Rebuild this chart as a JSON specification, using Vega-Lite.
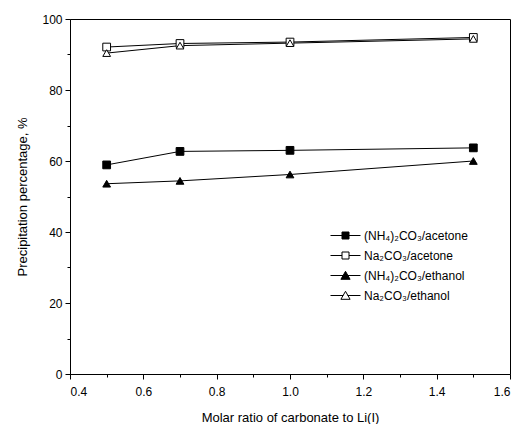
{
  "$schema": "https://vega.github.io/schema/vega-lite/v6.json",
  "width": 440,
  "height": 355,
  "autosize": "none",
  "padding": {"left": 70, "top": 19, "right": 10, "bottom": 50},
  "background": "white",
  "config": {
    "font": "Liberation Sans",
    "view": {"stroke": "black", "strokeWidth": 1},
    "axis": {
      "domainColor": "black", "tickColor": "black", "labelColor": "black", "titleColor": "black",
      "grid": false, "labelFont": "Liberation Sans", "titleFont": "Liberation Sans",
      "labelFontSize": 12, "titleFontSize": 13, "titleFontWeight": "normal"
    }
  },
  "data": {"values": [
    {"series": "(NH₄)₂CO₃/acetone", "x": 0.5, "y": 58.9},
    {"series": "(NH₄)₂CO₃/acetone", "x": 0.7, "y": 62.7},
    {"series": "(NH₄)₂CO₃/acetone", "x": 1.0, "y": 63.0},
    {"series": "(NH₄)₂CO₃/acetone", "x": 1.5, "y": 63.7},
    {"series": "Na₂CO₃/acetone", "x": 0.5, "y": 92.1},
    {"series": "Na₂CO₃/acetone", "x": 0.7, "y": 93.1},
    {"series": "Na₂CO₃/acetone", "x": 1.0, "y": 93.5},
    {"series": "Na₂CO₃/acetone", "x": 1.5, "y": 94.8},
    {"series": "(NH₄)₂CO₃/ethanol", "x": 0.5, "y": 53.6},
    {"series": "(NH₄)₂CO₃/ethanol", "x": 0.7, "y": 54.4},
    {"series": "(NH₄)₂CO₃/ethanol", "x": 1.0, "y": 56.2},
    {"series": "(NH₄)₂CO₃/ethanol", "x": 1.5, "y": 60.0},
    {"series": "Na₂CO₃/ethanol", "x": 0.5, "y": 90.4},
    {"series": "Na₂CO₃/ethanol", "x": 0.7, "y": 92.5},
    {"series": "Na₂CO₃/ethanol", "x": 1.0, "y": 93.2},
    {"series": "Na₂CO₃/ethanol", "x": 1.5, "y": 94.4}
  ]},
  "resolve": {"axis": {"x": "independent", "y": "independent"}, "scale": {"shape": "independent", "fill": "independent"}},
  "layer": [
    {
      "mark": {"type": "line", "color": "black", "strokeWidth": 1},
      "encoding": {
        "x": {"field": "x", "type": "quantitative", "scale": {"domain": [0.4, 1.6], "nice": false, "zero": false},
              "axis": {"orient": "bottom", "values": [0.4, 0.6, 0.8, 1.0, 1.2, 1.4, 1.6], "format": ".1f", "tickSize": 5, "labelPadding": 7, "title": "Molar ratio of carbonate to Li(I)", "titlePadding": 14}},
        "y": {"field": "y", "type": "quantitative", "scale": {"domain": [0, 100], "nice": false},
              "axis": {"orient": "left", "values": [0, 20, 40, 60, 80, 100], "tickSize": 5, "labelPadding": 3, "title": "Precipitation percentage, %", "titlePadding": 12}},
        "detail": {"field": "series"}
      }
    },
    {
      "mark": {"type": "point", "stroke": "black", "strokeWidth": 1, "opacity": 1, "fillOpacity": 1},
      "encoding": {
        "x": {"field": "x", "type": "quantitative",
              "axis": {"orient": "bottom", "values": [0.5, 0.7, 0.9, 1.1, 1.3, 1.5], "tickSize": 3, "labels": false, "domain": false, "title": null}},
        "y": {"field": "y", "type": "quantitative",
              "axis": {"orient": "left", "values": [10, 30, 50, 70, 90], "tickSize": 3, "labels": false, "domain": false, "title": null}},
        "shape": {"field": "series", "type": "nominal",
                  "scale": {"domain": ["(NH₄)₂CO₃/acetone", "Na₂CO₃/acetone", "(NH₄)₂CO₃/ethanol", "Na₂CO₃/ethanol"],
                            "range": ["square", "square", "triangle-up", "triangle-up"]},
                  "legend": null},
        "fill": {"field": "series", "type": "nominal",
                 "scale": {"domain": ["(NH₄)₂CO₃/acetone", "Na₂CO₃/acetone", "(NH₄)₂CO₃/ethanol", "Na₂CO₃/ethanol"],
                           "range": ["black", "white", "black", "white"]},
                 "legend": null},
        "size": {"value": 60}
      }
    },
    {
      "transform": [{"filter": "datum.x > 100"}],
      "mark": {"type": "point", "stroke": "black", "strokeWidth": 1, "opacity": 1, "fillOpacity": 1},
      "encoding": {
        "x": {"field": "x", "type": "quantitative", "axis": null},
        "y": {"field": "y", "type": "quantitative", "axis": null},
        "shape": {"field": "series", "type": "nominal",
                  "scale": {"domain": ["(NH₄)₂CO₃/acetone", "Na₂CO₃/acetone", "(NH₄)₂CO₃/ethanol", "Na₂CO₃/ethanol"],
                            "range": ["M-1.5,0H-0.35M0.35,0H1.5M-0.35,-0.35H0.35V0.35H-0.35Z", "M-1.5,0H-0.35M0.35,0H1.5M-0.35,-0.35H0.35V0.35H-0.35Z", "M-1.5,0H-0.22M0.22,0H1.5M0,-0.42L0.46,0.38H-0.46Z", "M-1.5,0H-0.22M0.22,0H1.5M0,-0.42L0.46,0.38H-0.46Z"]},
                  "legend": {"title": null, "orient": "none", "legendX": 265, "legendY": 206,
                             "symbolSize": 400, "symbolStrokeWidth": 1,
                             "labelFontSize": 12, "labelFont": "Liberation Sans", "labelColor": "black", "rowPadding": 3, "labelOffset": 8,
                             "encode": {"symbols": {"update": {
                               "fill": {"signal": "indexof(datum.value, '(NH') >= 0 ? 'black' : 'white'"},
                               "fillOpacity": {"value": 1},
                               "stroke": {"value": "black"},
                               "strokeWidth": {"value": 1}}}}}},
        "fill": {"field": "series", "type": "nominal",
                 "scale": {"domain": ["(NH₄)₂CO₃/acetone", "Na₂CO₃/acetone", "(NH₄)₂CO₃/ethanol", "Na₂CO₃/ethanol"],
                           "range": ["black", "white", "black", "white"]},
                 "legend": null},
        "size": {"value": 400}
      }
    }
  ]
}
